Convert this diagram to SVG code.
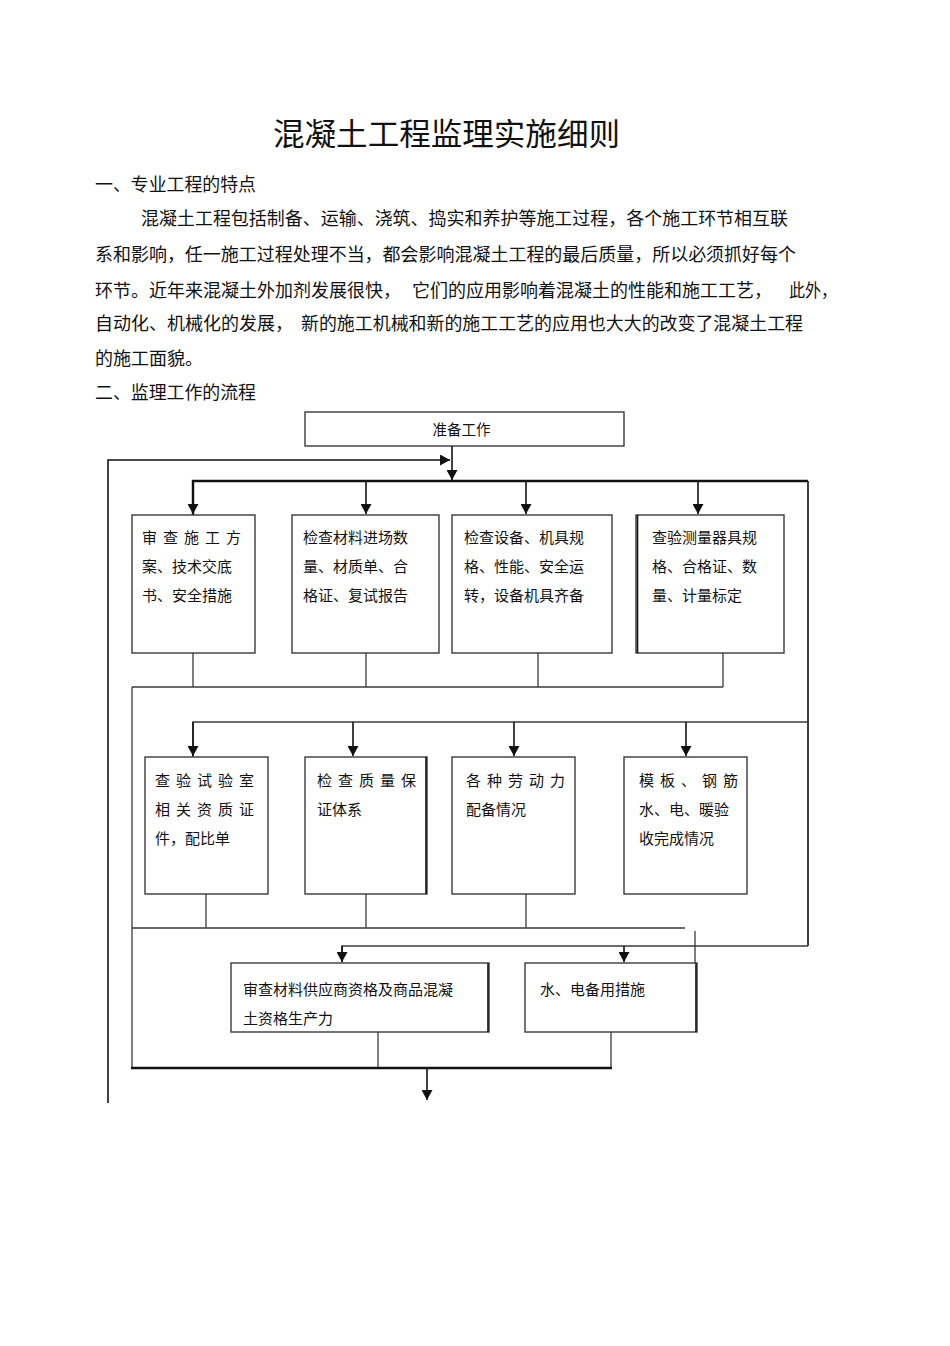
<svg xmlns="http://www.w3.org/2000/svg" width="950" height="1346" viewBox="0 0 950 1346">
<style>
text{font-family:"Noto Sans CJK SC","Liberation Serif",serif;fill:#111}
.title{font-size:31px}
.body{font-size:18px}
.bt{font-size:15px}
.box{fill:#fff;stroke:#3a3a3a;stroke-width:1.4}
.ln{fill:none;stroke:#3a3a3a;stroke-width:1.3}
.bus{fill:none;stroke:#111;stroke-width:2.4}
.blk{fill:none;stroke:#111;stroke-width:1.6}
</style>
<defs>
<marker id="ah" markerUnits="userSpaceOnUse" markerWidth="10" markerHeight="11" viewBox="0 0 10 11" refX="10" refY="5.5" orient="auto">
<path d="M0,0 L10,5.5 L0,11 Z" fill="#111"/>
</marker>
</defs>
<rect width="950" height="1346" fill="#fff"/>

<g id="header">
<text class="title" x="273" y="145" textLength="347" lengthAdjust="spacingAndGlyphs">混凝土工程监理实施细则</text>
<text class="body" x="95" y="191" textLength="161" lengthAdjust="spacingAndGlyphs">一、专业工程的特点</text>
<text class="body" x="141" y="224.5" textLength="647" lengthAdjust="spacingAndGlyphs">混凝土工程包括制备、运输、浇筑、捣实和养护等施工过程，各个施工环节相互联</text>
<text class="body" x="95" y="261" textLength="701" lengthAdjust="spacingAndGlyphs">系和影响，任一施工过程处理不当，都会影响混凝土工程的最后质量，所以必须抓好每个</text>
<text class="body" x="95" y="297">环节。近年来混凝土外加剂发展很快，</text>
<text class="body" x="412" y="297">它们的应用影响着混凝土的性能和施工工艺，</text>
<text class="body" x="789" y="297" textLength="48" lengthAdjust="spacingAndGlyphs">此外，</text>
<text class="body" x="95" y="329.5">自动化、机械化的发展，</text>
<text class="body" x="301" y="329.5" textLength="502" lengthAdjust="spacingAndGlyphs">新的施工机械和新的施工工艺的应用也大大的改变了混凝土工程</text>
<text class="body" x="95" y="364.5">的施工面貌。</text>
<text class="body" x="95" y="398.5" textLength="161" lengthAdjust="spacingAndGlyphs">二、监理工作的流程</text>
</g>

<g id="connectors">
<!-- feedback loop -->
<polyline class="blk" points="108,1103 108,460 450,460" marker-end="url(#ah)"/>
<line class="blk" x1="452" y1="446" x2="452" y2="480" marker-end="url(#ah)"/>
<!-- bus 1 -->
<polyline class="bus" points="193,515 193,481 808,481"/>
<line class="blk" x1="808" y1="481" x2="808" y2="946"/>
<line class="blk" x1="193" y1="482" x2="193" y2="514" marker-end="url(#ah)"/>
<line class="blk" x1="366" y1="482" x2="366" y2="514" marker-end="url(#ah)"/>
<line class="blk" x1="526" y1="482" x2="526" y2="514" marker-end="url(#ah)"/>
<line class="blk" x1="698" y1="482" x2="698" y2="514" marker-end="url(#ah)"/>
<!-- merge row 1 -->
<line class="ln" x1="193" y1="653" x2="193" y2="687"/>
<line class="ln" x1="366" y1="653" x2="366" y2="687"/>
<line class="ln" x1="538" y1="653" x2="538" y2="687"/>
<line class="ln" x1="723" y1="653" x2="723" y2="687"/>
<line class="ln" x1="132" y1="687" x2="723" y2="687"/>
<line class="ln" x1="132" y1="687" x2="132" y2="1068"/>
<!-- bus 2 -->
<polyline class="ln" points="193,757 193,722 808,722"/>
<line class="blk" x1="193" y1="722" x2="193" y2="756" marker-end="url(#ah)"/>
<line class="blk" x1="353" y1="722" x2="353" y2="756" marker-end="url(#ah)"/>
<line class="blk" x1="514" y1="722" x2="514" y2="756" marker-end="url(#ah)"/>
<line class="blk" x1="686" y1="722" x2="686" y2="756" marker-end="url(#ah)"/>
<!-- merge row 2 -->
<line class="ln" x1="206" y1="894" x2="206" y2="928"/>
<line class="ln" x1="366" y1="894" x2="366" y2="928"/>
<line class="ln" x1="526" y1="894" x2="526" y2="928"/>
<line class="ln" x1="132" y1="928" x2="685" y2="928"/>
<line class="ln" x1="695" y1="931" x2="695" y2="963"/>
<!-- bus 3 -->
<polyline class="ln" points="342,962 342,946 808,946"/>
<line class="blk" x1="342" y1="946" x2="342" y2="962" marker-end="url(#ah)"/>
<line class="blk" x1="624" y1="946" x2="624" y2="962" marker-end="url(#ah)"/>
<!-- merge row 3 -->
<line class="ln" x1="378" y1="1032" x2="378" y2="1068"/>
<line class="ln" x1="611" y1="1032" x2="611" y2="1068"/>
<line class="bus" x1="131" y1="1068" x2="612" y2="1068"/>
<line class="blk" x1="427" y1="1068" x2="427" y2="1100" marker-end="url(#ah)"/>
</g>

<g id="n0">
<rect class="box" x="305" y="412" width="319" height="34"/>
<text class="bt" x="461.5" y="434.5" text-anchor="middle" style="font-size:14.5px">准备工作</text>
</g>

<g id="n1">
<rect class="box" x="132" y="515" width="123" height="138"/>
<text class="bt" x="142 163 184 205 226" y="542.5">审查施工方</text>
<text class="bt" x="142" y="571.5">案、技术交底</text>
<text class="bt" x="142" y="600.5">书、安全措施</text>
</g>
<g id="n2">
<rect class="box" x="292" y="515" width="147" height="138"/>
<text class="bt" x="303" y="542.5">检查材料进场数</text>
<text class="bt" x="303" y="571.5">量、材质单、合</text>
<text class="bt" x="303" y="600.5">格证、复试报告</text>
</g>
<g id="n3">
<rect class="box" x="452" y="515" width="160" height="138"/>
<text class="bt" x="464" y="542.5">检查设备、机具规</text>
<text class="bt" x="464" y="571.5">格、性能、安全运</text>
<text class="bt" x="464" y="600.5">转，设备机具齐备</text>
</g>
<g id="n4">
<rect class="box" x="636" y="515" width="148" height="138"/>
<line class="blk" x1="637.5" y1="515" x2="637.5" y2="653"/>
<text class="bt" x="652" y="542.5">查验测量器具规</text>
<text class="bt" x="652" y="571.5">格、合格证、数</text>
<text class="bt" x="652" y="600.5">量、计量标定</text>
</g>

<g id="n5">
<rect class="box" x="145" y="757" width="123" height="137"/>
<text class="bt" x="155 176 197 218 239" y="785.5">查验试验室</text>
<text class="bt" x="155 176 197 218 239" y="814.5">相关资质证</text>
<text class="bt" x="155" y="843.5">件，配比单</text>
</g>
<g id="n6">
<rect class="box" x="305" y="757" width="122" height="137"/>
<line class="blk" x1="426" y1="757" x2="426" y2="894"/>
<text class="bt" x="317 338 359 380 401" y="785.5">检查质量保</text>
<text class="bt" x="317" y="814.5">证体系</text>
</g>
<g id="n7">
<rect class="box" x="452" y="757" width="123" height="137"/>
<text class="bt" x="466 487 508 529 550" y="785.5">各种劳动力</text>
<text class="bt" x="466" y="814.5">配备情况</text>
</g>
<g id="n8">
<rect class="box" x="624" y="757" width="123" height="137"/>
<text class="bt" x="639 660 681 702 723" y="785.5">模板、钢筋</text>
<text class="bt" x="639" y="814.5">水、电、暖验</text>
<text class="bt" x="639" y="843.5">收完成情况</text>
</g>

<g id="n9">
<rect class="box" x="231" y="963" width="258" height="69"/>
<line class="blk" x1="488" y1="963" x2="488" y2="1032"/>
<text class="bt" x="243" y="994.5">审查材料供应商资格及商品混凝</text>
<text class="bt" x="243" y="1023.5">土资格生产力</text>
</g>
<g id="n10">
<rect class="box" x="525" y="963" width="172" height="69"/>
<line class="blk" x1="696" y1="963" x2="696" y2="1032"/>
<text class="bt" x="540" y="994.5">水、电备用措施</text>
</g>
</svg>
